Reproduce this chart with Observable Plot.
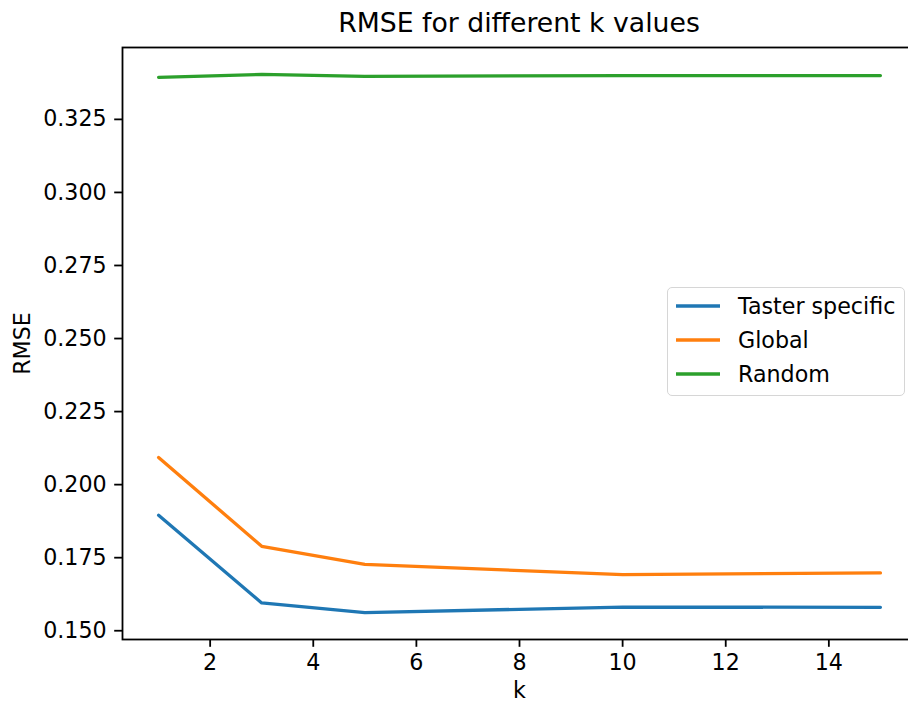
<!DOCTYPE html>
<html>
<head>
<meta charset="utf-8">
<script src="https://cdn.jsdelivr.net/npm/d3@7"></script>
<script src="https://cdn.jsdelivr.net/npm/@observablehq/plot@0.6"></script>
<style>
  html, body { margin: 0; padding: 0; background: #fff; overflow: hidden; }
  #wrap { position: relative; width: 908px; height: 702px; overflow: hidden; font-family: "DejaVu Sans", sans-serif; }
  #chart { position: absolute; left: 0; top: 0; width: 916px; }
  #title { position: absolute; left: 122px; width: 794px; top: 10px; text-align: center; font-size: 26.7px; color: #000; line-height: 1; }
  #legend { position: absolute; left: 667px; top: 287px; width: 238px; height: 109px; border: 1.5px solid #d6d6d6; border-radius: 5px; background: rgba(255,255,255,0.8); box-sizing: border-box; font-size: 22.2px; color: #000; }
  .row { position: absolute; left: 0; display: flex; align-items: center; height: 26px; }
  .row svg { margin-left: 8px; margin-right: 18px; }
</style>
</head>
<body>
<div id="wrap">
  <div id="chart"></div>
  <div id="title">RMSE for different k values</div>
  <div id="legend"></div>
</div>
<script>
const ks = [1, 3, 5, 10, 15];
const tasterSpecific = [0.1895, 0.1595, 0.1562, 0.1581, 0.1580];
const globalRmse = [0.2093, 0.1789, 0.1727, 0.1692, 0.1698];
const randomRmse = [0.3394, 0.3404, 0.3397, 0.3400, 0.3400];
const seriesNames = ["Taster specific", "Global", "Random"];
const seriesColors = ["#1f77b4", "#ff7f0e", "#2ca02c"];
const xTicks = [2, 4, 6, 8, 10, 12, 14];
const yTicks = [0.150, 0.175, 0.200, 0.225, 0.250, 0.275, 0.300, 0.325];

const seriesValues = [tasterSpecific, globalRmse, randomRmse];
const data = [];
seriesValues.forEach((vals, si) => {
  vals.forEach((v, i) => data.push({k: ks[i], rmse: v, series: seriesNames[si]}));
});

const chart = Plot.plot({
  width: 916,
  height: 702,
  marginLeft: 122,
  marginRight: 0,
  marginTop: 47,
  marginBottom: 63,
  style: {fontFamily: "DejaVu Sans, sans-serif", fontSize: "22.2px", color: "#000", background: "#fff", overflow: "visible", maxWidth: "none"},
  x: {domain: [0.3, 15.7]},
  y: {domain: [0.1470, 0.3496]},
  color: {domain: seriesNames, range: seriesColors},
  marks: [
    Plot.frame({stroke: "#000", strokeWidth: 1.8}),
    Plot.axisX({ticks: xTicks, tickSize: 7.8, tickPadding: 7, tickFormat: d3.format("d"), label: "k", labelAnchor: "center", labelArrow: "none", labelOffset: 58, strokeWidth: 1.8}),
    Plot.axisY({ticks: yTicks, tickSize: 7.8, tickPadding: 8, tickFormat: d3.format(".3f"), label: "RMSE", labelAnchor: "center", labelArrow: "none", labelOffset: 108, strokeWidth: 1.8}),
    Plot.line(data, {x: "k", y: "rmse", z: "series", stroke: "series", strokeWidth: 3.3})
  ]
});
document.getElementById("chart").appendChild(chart);

const legend = document.getElementById("legend");
seriesNames.forEach((name, i) => {
  const row = document.createElement("div");
  row.className = "row";
  row.style.top = (5 + i * 34) + "px";
  row.innerHTML = `<svg width="44" height="6"><line x1="0" x2="44" y1="3" y2="3" stroke="${seriesColors[i]}" stroke-width="3.3"/></svg><span>${name}</span>`;
  legend.appendChild(row);
});
</script>
</body>
</html>
